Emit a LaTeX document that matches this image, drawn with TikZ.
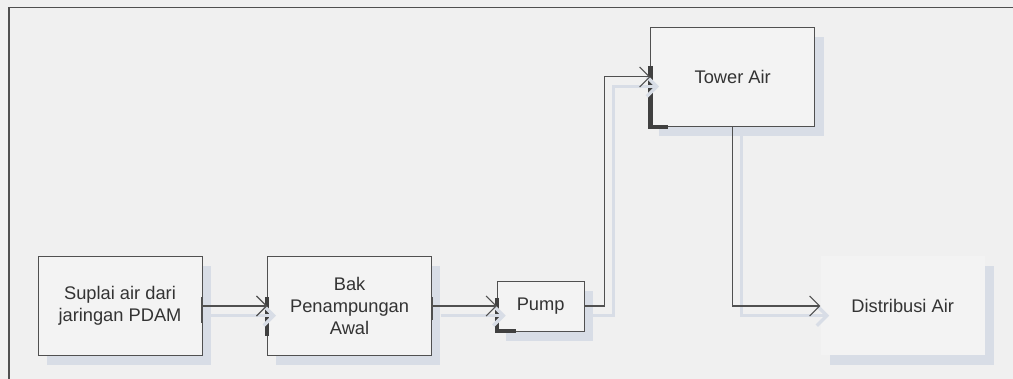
\documentclass[tikz,border=0pt]{standalone}
\usepackage{fontspec}
\setmainfont{Liberation Sans}
\usepackage{xcolor}
\usepackage{tikz}
\usetikzlibrary{arrows.meta, positioning, shadows}
\definecolor{pagegray}{RGB}{240, 240, 240}
\definecolor{boxgray}{RGB}{243, 243, 243}
\definecolor{edgegray}{RGB}{80, 80, 80}
\definecolor{textgray}{RGB}{51, 51, 51}
\definecolor{shadowblue}{RGB}{216, 221, 230}

\begin{document}
\begin{tikzpicture}[
    node distance=1.625cm,
    process/.style={draw=edgegray, fill=boxgray, minimum width=4.1cm,
                    minimum height=2.475cm, align=center, text=textgray,
                    font=\fontsize{13}{15.5}\selectfont,
                    drop shadow={shadow xshift=0.22cm, shadow yshift=-0.24cm,
                                 fill=shadowblue, opacity=1}},
    flow/.style={draw=edgegray, line width=0.8pt,
                 -{Straight Barb[length=2.5mm, width=5mm]}},
    flowshadow/.style={draw=shadowblue, line width=2.4pt,
                       -{Straight Barb[length=2.5mm, width=5mm]}},
    portbar/.style={draw=edgegray!80!black, line width=3pt},
    porttick/.style={draw=edgegray, line width=1.2pt}
]
    \fill[pagegray] (0,0) rectangle (25.325,9.475);
    \useasboundingbox (0,0) rectangle (25.325,9.475);
    \draw[edgegray, line width=1pt] (0.23,0) -- (0.23,9.29) -- (25.325,9.29);

    \node[process] (suplai) at (3,1.825) {Suplai air dari\\jaringan PDAM};
    \node[process, right=of suplai] (bak) {Bak\\Penampungan\\Awal};
    \node[process, right=of bak, minimum width=2.175cm, minimum height=1.25cm] (pump) {Pump};
    \node[process, above right=3.85cm and 1.65cm of pump] (tower) {Tower Air};
    \node[process, draw=none, right=5.9cm of pump] (distribusi) {Distribusi Air};

    \draw[portbar] ([yshift=2.2mm]bak.west) -- ([yshift=-7.4mm]bak.west);
    \draw[portbar] ([yshift=2.1mm]pump.west) |- ([xshift=4.8mm]pump.south west);
    \draw[portbar] ([yshift=2.75mm]tower.west) |- ([xshift=4.5mm]tower.south west);
    \draw[porttick] ([yshift=2.2mm]suplai.east) -- ([yshift=-4.2mm]suplai.east);
    \draw[porttick] ([yshift=2.2mm]bak.east) -- ([yshift=-3.6mm]bak.east);

    \begin{scope}[transform canvas={shift={(0.22,-0.24)}}]
        \draw[flowshadow] (suplai.east) -- (bak.west);
        \draw[flowshadow] (bak.east) -- (pump.west);
        \draw[flowshadow] (pump.east) -- ++(0.5,0) |- (tower.west);
        \draw[flowshadow] (tower.south) |- (distribusi.west);
    \end{scope}

    \draw[flow] (suplai.east) -- (bak.west);
    \draw[flow] (bak.east) -- (pump.west);
    \draw[flow] (pump.east) -- ++(0.5,0) |- (tower.west);
    \draw[flow] (tower.south) |- (distribusi.west);
\end{tikzpicture}
\end{document}
